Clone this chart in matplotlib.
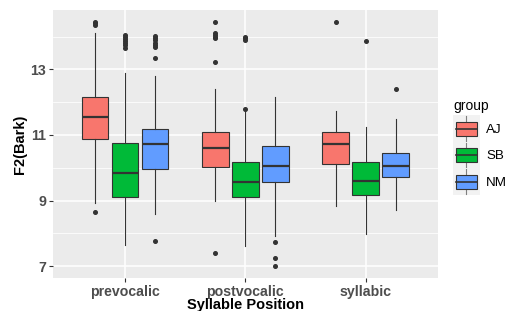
import numpy as np
import matplotlib
matplotlib.use('Agg')
import matplotlib.pyplot as plt
from matplotlib.patches import Rectangle
from matplotlib.lines import Line2D
from matplotlib.legend_handler import HandlerBase

plt.rcParams['font.family'] = ['Liberation Sans', 'DejaVu Sans']

# data (F2 in Bark)
positions = ['prevocalic', 'postvocalic', 'syllabic']
groups = ['AJ', 'SB', 'NM']
colors = {'AJ': '#F8766D', 'SB': '#00BA38', 'NM': '#619CFF'}

q1 = {'AJ': [10.87, 10.02, 10.11], 'SB': [9.11, 9.12, 9.16], 'NM': [9.97, 9.56, 9.71]}
med = {'AJ': [11.56, 10.61, 10.71], 'SB': [9.85, 9.56, 9.59], 'NM': [10.71, 10.06, 10.04]}
q3 = {'AJ': [12.17, 11.08, 11.10], 'SB': [10.77, 10.19, 10.19], 'NM': [11.18, 10.67, 10.46]}
whislo = {'AJ': [8.94, 9.00, 8.84], 'SB': [7.65, 7.63, 7.98], 'NM': [8.59, 7.92, 8.72]}
whishi = {'AJ': [14.10, 12.40, 11.74], 'SB': [12.90, 11.74, 11.23], 'NM': [12.80, 12.17, 11.48]}
fliers = {
    'AJ': [[14.44, 14.40, 14.36, 8.66],
           [14.43, 14.12, 14.06, 14.00, 13.95, 13.21, 7.41],
           [14.45]],
    'SB': [[14.06, 14.00, 13.94, 13.87, 13.80, 13.73, 13.66],
           [14.00, 13.95, 13.90, 11.80],
           [13.85]],
    'NM': [[14.02, 13.95, 13.88, 13.81, 13.74, 13.67, 13.36, 7.78],
           [7.74, 7.24, 7.02],
           [12.40]],
}

fig = plt.figure(figsize=(5.09, 3.11), dpi=100)
ax = fig.add_axes([0.104, 0.107, 0.756, 0.861])
ax.set_facecolor('#EBEBEB')

offsets = [-0.25, 0.0, 0.25]
box_w = 0.22
for gi, g in enumerate(groups):
    stats = []
    for i in range(len(positions)):
        stats.append(dict(q1=q1[g][i], med=med[g][i], q3=q3[g][i],
                          whislo=whislo[g][i], whishi=whishi[g][i],
                          fliers=fliers[g][i]))
    pos = np.arange(1, len(positions) + 1) + offsets[gi]
    ax.bxp(stats, positions=pos, widths=box_w, patch_artist=True,
           showcaps=False, manage_ticks=False,
           boxprops=dict(facecolor=colors[g], edgecolor='#333333', linewidth=0.8),
           medianprops=dict(color='#333333', linewidth=1.6),
           whiskerprops=dict(color='#333333', linewidth=0.8),
           flierprops=dict(marker='o', markersize=2.6, markerfacecolor='#333333',
                           markeredgecolor='#333333', linestyle='none'),
           zorder=3)

ax.set_xlim(0.4, 3.6)
ax.set_ylim(6.65, 14.81)
ax.set_xticks([1, 2, 3])
ax.set_xticklabels(positions)
ax.set_yticks([7, 9, 11, 13])
ax.set_yticks([8, 10, 12, 14], minor=True)
ax.grid(True, which='major', color='white', linewidth=1.1, zorder=0)
ax.grid(True, which='minor', axis='y', color='white', linewidth=0.55, zorder=0)
ax.set_axisbelow(True)
for s in ax.spines.values():
    s.set_visible(False)
ax.tick_params(which='major', length=3, width=0.8, color='#333333', pad=2,
               labelcolor='#4D4D4D')
ax.tick_params(which='minor', length=0)
for lab in ax.get_xticklabels() + ax.get_yticklabels():
    lab.set_fontweight('bold')
    lab.set_fontsize(10.2)
ax.set_xlabel('Syllable Position', fontsize=10.5, fontweight='bold', labelpad=-0.5)
ax.set_ylabel('F2(Bark)', fontsize=10.5, fontweight='bold', labelpad=2)

ls = 0.4  # legend label spacing, the key background fills it


class BoxKey(HandlerBase):
    def create_artists(self, legend, orig_handle, xdescent, ydescent,
                       width, height, fontsize, trans):
        x0, y0 = -xdescent, -ydescent
        ext = ls * fontsize / 2
        bg = Rectangle((x0, y0 - ext), width, height + 2 * ext, facecolor='#F2F2F2',
                       edgecolor='none', transform=trans)
        bw, bh = width * 0.81, height * 0.66
        bx, by = x0 + (width - bw) / 2, y0 + (height - bh) / 2
        box = Rectangle((bx, by), bw, bh, facecolor=orig_handle.get_facecolor(),
                        edgecolor='#333333', linewidth=0.8, transform=trans)
        cx, cy = x0 + width / 2, y0 + height / 2
        m = Line2D([bx, bx + bw], [cy, cy], color='#333333', linewidth=1.2,
                   transform=trans)
        w1 = Line2D([cx, cx], [by + bh, y0 + height + ext * 0.6], color='#7F7F7F',
                    linewidth=0.8, transform=trans)
        w2 = Line2D([cx, cx], [y0 - ext * 0.6, by], color='#7F7F7F',
                    linewidth=0.8, transform=trans)
        return [bg, w1, w2, box, m]


handles = [Rectangle((0, 0), 1, 1, facecolor=colors[g]) for g in groups]
leg = fig.legend(handles, groups, title='group', loc='upper left',
                 bbox_to_anchor=(0.89, 0.683), frameon=False,
                 handler_map={Rectangle: BoxKey()}, fontsize=9.6,
                 title_fontsize=10, handlelength=2.02, handleheight=2.07,
                 labelspacing=ls, handletextpad=0.45, borderpad=0,
                 borderaxespad=0, alignment='left')

fig.savefig('out.png', dpi=100)
